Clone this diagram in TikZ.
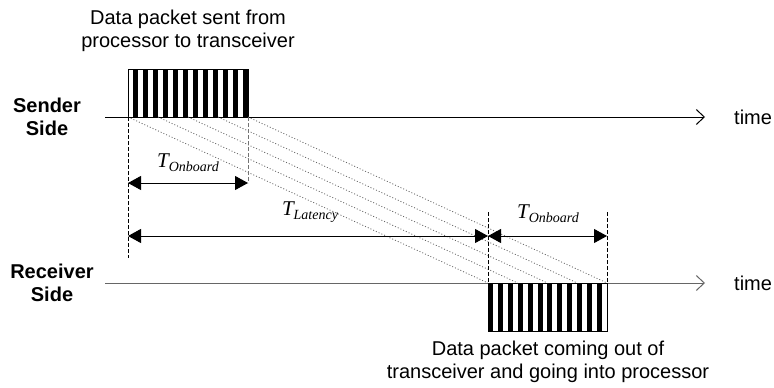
\documentclass[tikz,border=0pt]{standalone}
\usepackage{fontspec}
\setmainfont{Liberation Sans}
\newfontfamily\timesfont{Liberation Serif}
\usetikzlibrary{arrows.meta}
\newcommand{\tsub}[1]{{\timesfont\itshape\fontsize{21}{21}\selectfont T\raisebox{-4pt}{\fontsize{14}{14}\selectfont #1}}}
\begin{document}
\begin{tikzpicture}[
    x=1pt, y=-1pt,
    caption/.style={font=\fontsize{20}{22.5}\selectfont, align=center, inner sep=0pt},
    side/.style={font=\fontsize{20}{23}\selectfont\bfseries, align=center, inner sep=0pt},
    timeline/.style={line width=1pt, -{Straight Barb[length=8pt,width=15pt]}},
    span/.style={line width=1pt, {Triangle[length=13pt,width=14pt]}-{Triangle[length=13pt,width=14pt]}},
    guide/.style={line width=0.8pt, dash pattern=on 4pt off 2pt},
    trace/.style={black!60, line width=0.8pt, dash pattern=on 1pt off 2pt},
    packet/.style={draw, line width=0.8pt, minimum width=120pt, minimum height=48pt, inner sep=0pt},
    tlabel/.style={anchor=base, inner sep=0pt}
]
\useasboundingbox (0,0) rectangle (774,388);

% side names and axes
\node[side] (sender) at (47,117) {Sender\\Side};
\node[side] (receiver) at (52,283) {Receiver\\Side};
\coordinate (s-start) at (105,117);
\coordinate (s-end) at (705,117);
\coordinate (r-start) at (105,283);
\coordinate (r-end) at (705,283);
\draw[timeline] (s-start) -- (s-end);
\draw[timeline, black!60] (r-start) -- (r-end);
\node[caption, anchor=west] (time-s) at (734,117) {time};
\node[caption, anchor=west] (time-r) at (734,283) {time};

% packets
\node[packet] (txpkt) at (188,93) {};
\foreach \i in {0,...,11}
    \fill ({133+10*\i},69) rectangle ({138+10*\i},117);
\node[packet, minimum width=119pt] (rxpkt) at (547.5,307) {};
\foreach \i in {0,...,11}
    \fill ({488+9.9*\i},283) rectangle ({493+9.9*\i},331);
\node[caption] (sent) at (188,31) {Data packet sent from\\processor to transceiver};
\node[caption] (recv) at (548,362) {Data packet coming out of\\transceiver and going into processor};

% traces from sender to receiver
\foreach \i in {0,...,4}
    \draw[trace] ({128+30*\i},117) -- ({488+29.75*\i},283);

% timing marks
\coordinate (a0) at (128,117);
\coordinate (a1) at (128,258);
\coordinate (b0) at (248,117);
\coordinate (b1) at (248,183);
\coordinate (c0) at (488,212);
\coordinate (c1) at (488,283);
\coordinate (d0) at (607,212);
\coordinate (d1) at (607,283);
\draw[guide] (a0) -- (a1);
\draw[guide, black!55] (b0) -- (b1);
\draw[guide] (c0) -- (c1);
\draw[guide] (d0) -- (d1);
\coordinate (onb-l) at (128,183);
\coordinate (lat-l) at (128,236);
\coordinate (lat-r) at (488,236);
\coordinate (onb-r) at (607,236);
\draw[span] (onb-l) -- (b1);
\draw[span] (lat-l) -- (lat-r);
\draw[span] (lat-r) -- (onb-r);
\node[tlabel] (onboard-tx) at (188,167) {\tsub{Onboard}};
\node[tlabel] (latency) at (310,215) {\tsub{Latency}};
\node[tlabel] (onboard-rx) at (548,218) {\tsub{Onboard}};
\end{tikzpicture}
\end{document}
